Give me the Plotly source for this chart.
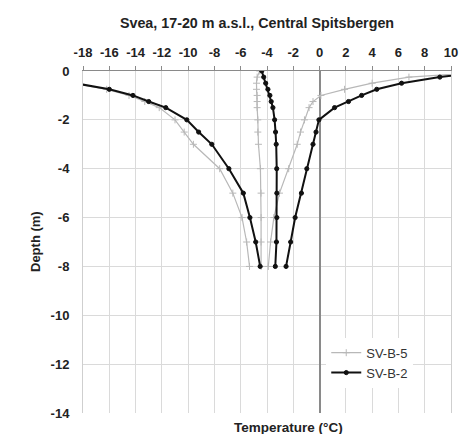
import plotly.graph_objects as go

# Depth of each thermistor level (m, negative downwards)
depth_m = [0, -0.25, -0.5, -0.75, -1.0, -1.25, -1.5, -2.0, -2.5, -3.0, -4.0, -5.0, -6.0, -7.0, -8.0]

# SV-B-2: minimum, mean and maximum ground temperature (°C)
svb2_min = [-22.0, -20.3, -18.6, -16.0, -14.2, -13.0, -11.7, -10.1, -9.2, -8.2, -6.9, -5.8, -5.3, -4.86, -4.52]
svb2_mean = [-4.4, -4.25, -4.1, -3.93, -3.78, -3.68, -3.55, -3.42, -3.35, -3.3, -3.26, -3.25, -3.25, -3.28, -3.37]
svb2_max = [13.0, 9.15, 6.24, 4.35, 3.2, 2.2, 1.14, -0.05, -0.27, -0.5, -0.97, -1.38, -1.86, -2.2, -2.55]

# SV-B-5: minimum, mean and maximum ground temperature (°C)
svb5_min = [-22.5, -20.6, -18.7, -16.2, -14.5, -13.3, -12.2, -11.0, -10.3, -9.6, -7.6, -6.6, -5.9, -5.55, -5.33]
svb5_mean = [-4.55, -4.75, -4.8, -4.8, -4.75, -4.75, -4.75, -4.7, -4.7, -4.65, -4.5, -4.45, -4.45, -4.45, -4.45]
svb5_max = [14.0, 6.8, 4.0, 1.9, 0.1, -0.5, -0.8, -1.15, -1.45, -1.7, -2.35, -3.05, -3.48, -3.73, -3.9]

x_ticks = list(range(-18, 11, 2))
y_ticks = list(range(-14, 1, 2))

FONT = "Liberation Sans, Arial, sans-serif"
TEXT = "#222222"
GRAY = "#b8b8b8"
BLACK = "#111111"


def profile(series, x, color, width, symbol, msize, show):
    return go.Scatter(
        x=x, y=depth_m, mode="lines+markers", name=series,
        legendgroup=series, showlegend=show,
        line=dict(color=color, width=width),
        marker=dict(symbol=symbol, size=msize, color=color,
                    line=dict(color=color, width=1)),
    )


fig = go.Figure()
for i, x in enumerate([svb5_min, svb5_mean, svb5_max]):
    fig.add_trace(profile("SV-B-5", x, GRAY, 1.2, "cross-thin", 5, i == 0))
for i, x in enumerate([svb2_min, svb2_mean, svb2_max]):
    fig.add_trace(profile("SV-B-2", x, BLACK, 2, "circle", 4.2, i == 0))

fig.update_layout(
    width=459, height=434,
    margin=dict(l=83, r=8, t=71, b=21),
    paper_bgcolor="white", plot_bgcolor="white",
    font=dict(family=FONT, size=13, color=TEXT),
    title=dict(text="<b>Svea, 17-20 m a.s.l., Central Spitsbergen</b>",
               x=257 / 459, xanchor="center", y=1 - 23 / 434, yanchor="middle",
               font=dict(size=14.3, color=TEXT)),
    legend=dict(x=0.661, y=0.22, xanchor="left", yanchor="top",
                bgcolor="white", borderwidth=0,
                font=dict(size=13, color="#333333"), tracegroupgap=0),
)

fig.update_xaxes(
    side="top", range=[-18, 10], tickvals=x_ticks,
    ticktext=[f"<b>{v}</b>" for v in x_ticks],
    showgrid=True, gridcolor="#dadada", gridwidth=1,
    showline=True, linecolor="#8a8a8a", linewidth=1.2, mirror=False,
    ticks="outside", ticklen=4, tickcolor="#8a8a8a", tickwidth=1,
    zeroline=True, zerolinecolor="#8a8a8a", zerolinewidth=1.5,
    tickfont=dict(size=13, color=TEXT), ticklabelstandoff=4,
    automargin=False,
)
fig.update_yaxes(
    range=[-14, 0], tickvals=y_ticks, ticktext=[f"<b>{v}</b>" for v in y_ticks],
    showgrid=True, gridcolor="#dadada", gridwidth=1,
    showline=True, linecolor="#cfcfcf", linewidth=1, mirror=True,
    zeroline=False, ticks="", ticklabelstandoff=10,
    tickfont=dict(size=13, color=TEXT), automargin=False,
)

# Axis titles
fig.add_annotation(text="<b>Temperature (°C)</b>", xref="paper", yref="paper",
                   x=(288 - 83) / 368, y=-(428 - 413) / 342, showarrow=False,
                   xanchor="center", yanchor="middle", font=dict(size=13.5))
fig.add_annotation(text="<b>Depth (m)</b>", xref="paper", yref="paper",
                   x=(35 - 83) / 368, y=0.5, showarrow=False, textangle=-90,
                   xanchor="center", yanchor="middle", font=dict(size=13))

fig.write_html("out.html")
